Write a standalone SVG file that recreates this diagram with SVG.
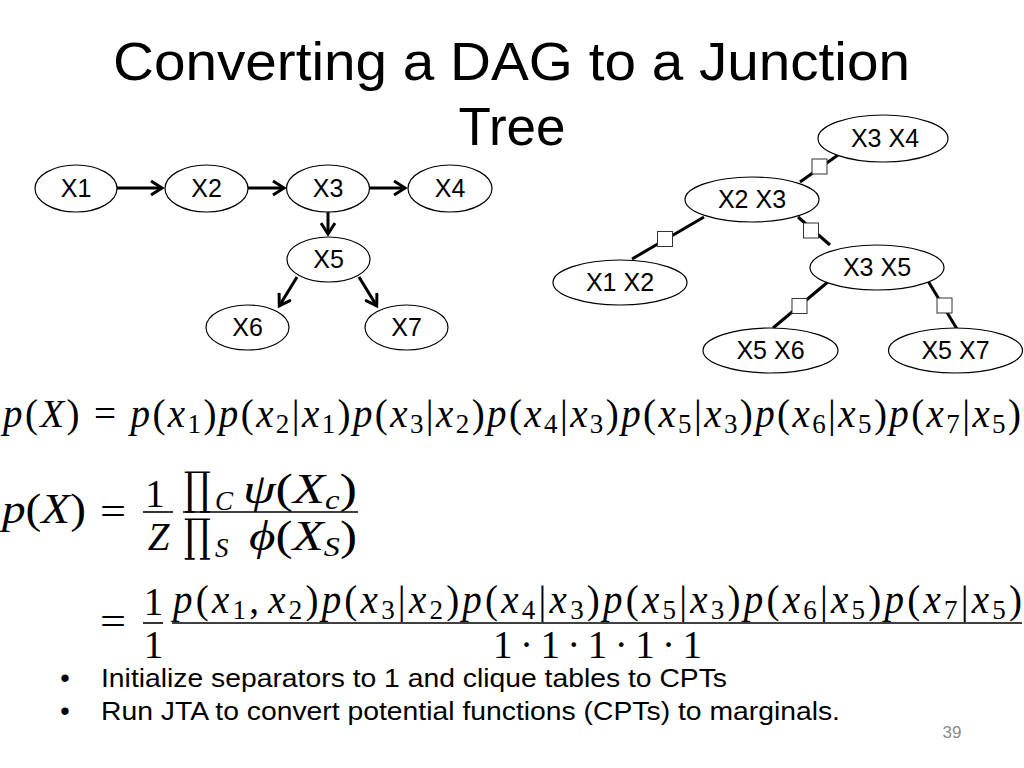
<svg xmlns="http://www.w3.org/2000/svg" width="1024" height="768" viewBox="0 0 1024 768">
<defs>
<style>
.nd ellipse{fill:#fff;stroke:#000;stroke-width:1.2}
.nd text{font-family:"Liberation Sans",Arial,sans-serif;font-size:25px;text-anchor:middle;fill:#000}
.arrow{stroke:#000;stroke-width:3;fill:none;marker-end:url(#ah)}
.tl{stroke:#000;stroke-width:3}
.sep{fill:#fff;stroke:#333;stroke-width:1}
.m{font-family:"Liberation Serif","Times New Roman",serif;font-size:39px;fill:#000}
.i{font-style:italic}
.s{font-size:27px}
.bar{stroke:#000;stroke-width:1.6}
.t{font-family:"Liberation Sans",Arial,sans-serif;fill:#000}
.pg{font-family:"Liberation Sans",Arial,sans-serif;fill:#8c8c8c;font-size:17px}
.big{font-family:"DejaVu Serif",serif;font-size:45px;fill:#000}
.m2{font-size:43px}
</style>
<marker id="ah" markerUnits="userSpaceOnUse" markerWidth="16" markerHeight="16" refX="12" refY="8" orient="auto" viewBox="0 0 16 16">
<path d="M1,1 L12,8 L1,15" fill="none" stroke="#000" stroke-width="3"/>
</marker>
</defs>
<rect width="1024" height="768" fill="#fff"/>

<g id="title">
<text class="t" x="511.5" y="80" font-size="53" text-anchor="middle" textLength="797" lengthAdjust="spacingAndGlyphs">Converting a DAG to a Junction</text>
<text class="t" x="512" y="145" font-size="53" text-anchor="middle">Tree</text>
</g>

<g id="connectors">
<path class="arrow" d="M117,188 L162,188"/>
<path class="arrow" d="M248,188 L284,188"/>
<path class="arrow" d="M369,188 L405,188"/>
<path class="arrow" d="M328,212 L328,234"/>
<path class="arrow" d="M297,277 L279.3,305.9"/>
<path class="arrow" d="M359,277 L376.7,305.9"/>
<line class="tl" x1="800" y1="182" x2="838" y2="155"/>
<line class="tl" x1="704" y1="217" x2="632" y2="259"/>
<line class="tl" x1="798" y1="217" x2="830" y2="245"/>
<line class="tl" x1="829" y1="281" x2="773" y2="328"/>
<line class="tl" x1="928" y1="281" x2="957" y2="329"/>
<rect class="sep" x="812" y="159" width="15" height="15"/>
<rect class="sep" x="657.5" y="231.5" width="15" height="15"/>
<rect class="sep" x="803.5" y="223" width="15" height="15"/>
<rect class="sep" x="792" y="298.5" width="15" height="15"/>
<rect class="sep" x="937" y="298" width="15" height="15"/>
</g>

<g id="n-x1" class="nd"><ellipse cx="76" cy="188.5" rx="41" ry="23.5"/><text x="76" y="197">X1</text></g>
<g id="n-x2" class="nd"><ellipse cx="206.5" cy="188.5" rx="41.5" ry="23.5"/><text x="206.5" y="197">X2</text></g>
<g id="n-x3" class="nd"><ellipse cx="328" cy="188.5" rx="41.5" ry="23.5"/><text x="328" y="197">X3</text></g>
<g id="n-x4" class="nd"><ellipse cx="450" cy="188.5" rx="42" ry="23.5"/><text x="450" y="197">X4</text></g>
<g id="n-x5" class="nd"><ellipse cx="328.5" cy="259.5" rx="41.5" ry="22.5"/><text x="328.5" y="268">X5</text></g>
<g id="n-x6" class="nd"><ellipse cx="247.5" cy="327.5" rx="41.5" ry="22.5"/><text x="247.5" y="336">X6</text></g>
<g id="n-x7" class="nd"><ellipse cx="406.5" cy="327.5" rx="41.5" ry="22.5"/><text x="406.5" y="336">X7</text></g>

<g id="c-x3x4" class="nd"><ellipse cx="883" cy="138.5" rx="65" ry="23.5"/><text x="885" y="147">X3 X4</text></g>
<g id="c-x2x3" class="nd"><ellipse cx="752" cy="199.5" rx="67" ry="22.5"/><text x="752" y="208">X2 X3</text></g>
<g id="c-x1x2" class="nd"><ellipse cx="620" cy="282.5" rx="67" ry="22.5"/><text x="620" y="291">X1 X2</text></g>
<g id="c-x3x5" class="nd"><ellipse cx="877" cy="267.5" rx="67" ry="22.5"/><text x="877" y="276">X3 X5</text></g>
<g id="c-x5x6" class="nd"><ellipse cx="770.5" cy="350.5" rx="67.5" ry="22.5"/><text x="770.5" y="359">X5 X6</text></g>
<g id="c-x5x7" class="nd"><ellipse cx="955.5" cy="350.5" rx="67" ry="22.5"/><text x="955.5" y="359">X5 X7</text></g>

<g id="eq1">
<text class="m" x="3" y="427" textLength="1018" lengthAdjust="spacing"><tspan class="i">p</tspan>(<tspan class="i">X</tspan>) = <tspan class="i">p</tspan>(<tspan class="i">x</tspan><tspan class="s" dy="6">1</tspan><tspan dy="-6">)</tspan><tspan class="i">p</tspan>(<tspan class="i">x</tspan><tspan class="s" dy="6">2</tspan><tspan dy="-6">|</tspan><tspan class="i">x</tspan><tspan class="s" dy="6">1</tspan><tspan dy="-6">)</tspan><tspan class="i">p</tspan>(<tspan class="i">x</tspan><tspan class="s" dy="6">3</tspan><tspan dy="-6">|</tspan><tspan class="i">x</tspan><tspan class="s" dy="6">2</tspan><tspan dy="-6">)</tspan><tspan class="i">p</tspan>(<tspan class="i">x</tspan><tspan class="s" dy="6">4</tspan><tspan dy="-6">|</tspan><tspan class="i">x</tspan><tspan class="s" dy="6">3</tspan><tspan dy="-6">)</tspan><tspan class="i">p</tspan>(<tspan class="i">x</tspan><tspan class="s" dy="6">5</tspan><tspan dy="-6">|</tspan><tspan class="i">x</tspan><tspan class="s" dy="6">3</tspan><tspan dy="-6">)</tspan><tspan class="i">p</tspan>(<tspan class="i">x</tspan><tspan class="s" dy="6">6</tspan><tspan dy="-6">|</tspan><tspan class="i">x</tspan><tspan class="s" dy="6">5</tspan><tspan dy="-6">)</tspan><tspan class="i">p</tspan>(<tspan class="i">x</tspan><tspan class="s" dy="6">7</tspan><tspan dy="-6">|</tspan><tspan class="i">x</tspan><tspan class="s" dy="6">5</tspan><tspan dy="-6">)</tspan></text>
</g>

<g id="eq2">
<text class="m m2" x="2" y="523" textLength="84" lengthAdjust="spacingAndGlyphs"><tspan class="i">p</tspan>(<tspan class="i">X</tspan>)</text>
<text class="m" x="100" y="525" textLength="26" lengthAdjust="spacingAndGlyphs">=</text>
<text class="m" x="155" y="507" text-anchor="middle">1</text>
<line class="bar" x1="143" y1="512" x2="173" y2="512"/>
<text class="m i" x="158.5" y="550" text-anchor="middle">Z</text>
<text class="big" x="184" y="504" textLength="27" lengthAdjust="spacingAndGlyphs">∏</text>
<text class="m i s" x="215" y="510">C</text>
<text class="m m2" x="243" y="503" textLength="114" lengthAdjust="spacingAndGlyphs"><tspan class="i">ψ</tspan>(<tspan class="i">X</tspan><tspan class="i s" dy="6">c</tspan><tspan dy="-6">)</tspan></text>
<line class="bar" x1="183" y1="512" x2="358" y2="512"/>
<text class="big" x="184" y="551" textLength="27" lengthAdjust="spacingAndGlyphs">∏</text>
<text class="m i s" x="215" y="557">S</text>
<text class="m m2" x="249" y="550" textLength="108" lengthAdjust="spacingAndGlyphs"><tspan class="i">ϕ</tspan>(<tspan class="i">X</tspan><tspan class="i s" dy="6">S</tspan><tspan dy="-6">)</tspan></text>
</g>

<g id="eq3">
<text class="m" x="100" y="635" textLength="26" lengthAdjust="spacingAndGlyphs">=</text>
<text class="m" x="153.5" y="615" text-anchor="middle">1</text>
<line class="bar" x1="143" y1="623" x2="163" y2="623"/>
<text class="m" x="153.5" y="658" text-anchor="middle">1</text>
<text class="m" x="173" y="613" textLength="849" lengthAdjust="spacing"><tspan class="i">p</tspan>(<tspan class="i">x</tspan><tspan class="s" dy="6">1</tspan><tspan dy="-6">,</tspan><tspan class="i" dx="6">x</tspan><tspan class="s" dy="6">2</tspan><tspan dy="-6">)</tspan><tspan class="i">p</tspan>(<tspan class="i">x</tspan><tspan class="s" dy="6">3</tspan><tspan dy="-6">|</tspan><tspan class="i">x</tspan><tspan class="s" dy="6">2</tspan><tspan dy="-6">)</tspan><tspan class="i">p</tspan>(<tspan class="i">x</tspan><tspan class="s" dy="6">4</tspan><tspan dy="-6">|</tspan><tspan class="i">x</tspan><tspan class="s" dy="6">3</tspan><tspan dy="-6">)</tspan><tspan class="i">p</tspan>(<tspan class="i">x</tspan><tspan class="s" dy="6">5</tspan><tspan dy="-6">|</tspan><tspan class="i">x</tspan><tspan class="s" dy="6">3</tspan><tspan dy="-6">)</tspan><tspan class="i">p</tspan>(<tspan class="i">x</tspan><tspan class="s" dy="6">6</tspan><tspan dy="-6">|</tspan><tspan class="i">x</tspan><tspan class="s" dy="6">5</tspan><tspan dy="-6">)</tspan><tspan class="i">p</tspan>(<tspan class="i">x</tspan><tspan class="s" dy="6">7</tspan><tspan dy="-6">|</tspan><tspan class="i">x</tspan><tspan class="s" dy="6">5</tspan><tspan dy="-6">)</tspan></text>
<line class="bar" x1="172" y1="623" x2="1022" y2="623"/>
<text class="m" x="493" y="658" textLength="209" lengthAdjust="spacing">1 · 1 · 1 · 1 · 1</text>
</g>

<g id="bullets">
<text class="t" x="65" y="687" font-size="27" text-anchor="middle">•</text>
<text class="t" x="101" y="687" font-size="26.5" textLength="626" lengthAdjust="spacingAndGlyphs">Initialize separators to 1 and clique tables to CPTs</text>
<text class="t" x="65" y="720" font-size="27" text-anchor="middle">•</text>
<text class="t" x="101" y="720" font-size="26.5" textLength="739" lengthAdjust="spacingAndGlyphs">Run JTA to convert potential functions (CPTs) to marginals.</text>
</g>

<text id="page-number" class="pg" x="952" y="738" text-anchor="middle">39</text>
</svg>
